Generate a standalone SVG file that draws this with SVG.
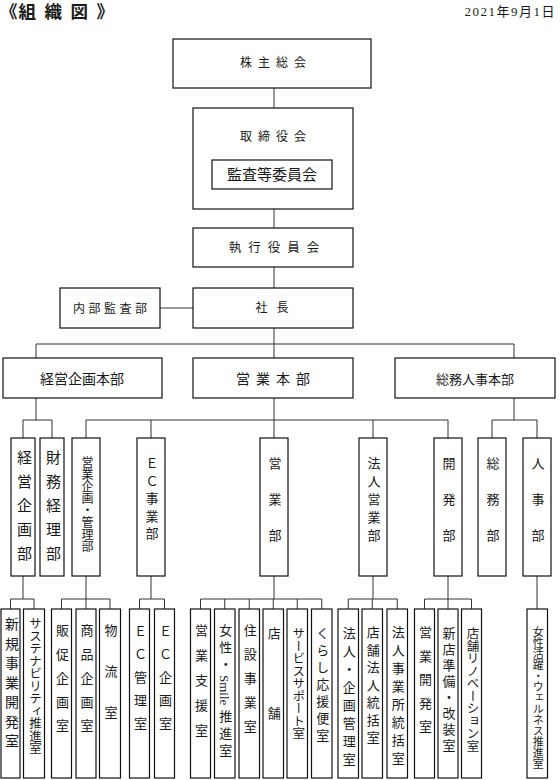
<svg xmlns="http://www.w3.org/2000/svg" width="560" height="780" viewBox="0 0 560 780">
<style>
.box{fill:#fff;stroke:#111;stroke-width:1.2}
.ln{fill:none;stroke:#333;stroke-width:1}
text{font-family:"Liberation Serif","Noto Sans CJK JP",serif;fill:#1a1a1a}
.h{text-anchor:middle;dominant-baseline:central}
.v{writing-mode:vertical-rl;text-anchor:start}
</style>
<rect width="560" height="780" fill="#fff"/>
<text id="title" x="0" y="18" font-size="17.5" font-weight="bold" letter-spacing="8.5"><tspan letter-spacing="1">《</tspan>組織図》</text>
<text id="date" x="556" y="16" font-size="13" letter-spacing="1.5" text-anchor="end">2021年9月1日</text>

<g id="connectors" class="ln">
<path d="M274 88V108M274 209V228M274 267V288M274 328V344M160 308H193"/>
<path d="M36 344H514M36 344V358M274 344V358M514 344V358"/>
<path d="M36 398V420M23 420H52M23 420V438M52 420V438"/>
<path d="M274 398V420M86 420H448M86 420V438M151 420V438M274 420V438M373 420V438M448 420V438"/>
<path d="M514 398V420M492 420H537M492 420V438M537 420V438"/>
<path d="M23 576V599M10.5 599H34M10.5 599V609M34 599V609"/>
<path d="M86 576V599M61.5 599H110M61.5 599V609M86 599V609M110 599V609"/>
<path d="M151 576V599M139.5 599H164.5M139.5 599V609M164.5 599V609"/>
<path d="M274 576V599M200.5 599H321.75M200.5 599V609M224.75 599V609M249.25 599V609M273.25 599V609M297.25 599V609M321.75 599V609"/>
<path d="M373 576V599M348.25 599H397.25M348.25 599V609M372.25 599V609M397.25 599V609"/>
<path d="M448 576V599M424.5 599H471.5M424.5 599V609M448 599V609M471.5 599V609"/>
<path d="M537 576V609"/>
</g>

<g id="kabunushi"><rect class="box" x="173" y="39" width="198" height="49"/><text class="h" x="276" y="63" font-size="12" letter-spacing="6">株主総会</text></g>
<g id="torishimariyaku"><rect class="box" x="193" y="108" width="160" height="101"/><text class="h" x="276" y="137" font-size="12" letter-spacing="6">取締役会</text>
<g id="kansa"><rect class="box" x="212" y="160" width="120" height="29"/><text class="h" x="272" y="175" font-size="15">監査等委員会</text></g></g>
<g id="shikkou"><rect class="box" x="193" y="228" width="160" height="39"/><text class="h" x="277.5" y="248" font-size="12.5" letter-spacing="7">執行役員会</text></g>
<g id="shacho"><rect class="box" x="193" y="288" width="160" height="40"/><text class="h" x="276.5" y="308" font-size="12" letter-spacing="9">社長</text></g>
<g id="naibu"><rect class="box" x="60" y="288" width="100" height="40"/><text class="h" x="111.75" y="309" font-size="12" letter-spacing="3.5">内部監査部</text></g>

<g id="keiei-honbu"><rect class="box" x="3" y="358" width="159" height="40"/><text class="h" x="82" y="379" font-size="14">経営企画本部</text></g>
<g id="eigyo-honbu"><rect class="box" x="193" y="358" width="160" height="40"/><text class="h" x="276" y="379" font-size="14" letter-spacing="6">営業本部</text></g>
<g id="somu-honbu"><rect class="box" x="395" y="358" width="160" height="40"/><text class="h" x="475" y="379" font-size="13">総務人事本部</text></g>

<g id="keiei-kikaku"><rect class="box" x="11" y="438" width="24" height="138"/><text class="v" x="23" y="450" font-size="15" letter-spacing="9">経営企画部</text></g>
<g id="zaimu"><rect class="box" x="40" y="438" width="24" height="138"/><text class="v" x="52" y="450" font-size="15" letter-spacing="9">財務経理部</text></g>
<g id="eigyo-kikaku"><rect class="box" x="72" y="438" width="28" height="138"/><text class="v" x="86" y="456" font-size="12">営業企画・管理部</text></g>
<g id="ec"><rect class="box" x="137" y="438" width="28" height="138"/><text class="v" x="151" y="457" font-size="13" letter-spacing="4.5">ＥＣ事業部</text></g>
<g id="eigyo"><rect class="box" x="260" y="438" width="28" height="138"/><text class="v" x="274" y="457" font-size="13" letter-spacing="23">営業<tspan letter-spacing="0">部</tspan></text></g>
<g id="hojin"><rect class="box" x="359" y="438" width="28" height="138"/><text class="v" x="373" y="457" font-size="13" letter-spacing="5">法人営業部</text></g>
<g id="kaihatsu"><rect class="box" x="434" y="438" width="28" height="138"/><text class="v" x="448" y="457" font-size="13" letter-spacing="23">開発<tspan letter-spacing="0">部</tspan></text></g>
<g id="somu"><rect class="box" x="478" y="438" width="28" height="138"/><text class="v" x="492" y="457" font-size="13" letter-spacing="23">総務<tspan letter-spacing="0">部</tspan></text></g>
<g id="jinji"><rect class="box" x="523" y="438" width="28" height="138"/><text class="v" x="537" y="457" font-size="13" letter-spacing="23">人事<tspan letter-spacing="0">部</tspan></text></g>

<g id="shinki"><rect class="box" x="1" y="609" width="19" height="169"/><text class="v" x="10.5" y="617" font-size="14" letter-spacing="5.5">新規事業開発室</text></g>
<g id="sustain"><rect class="box" x="23.5" y="609" width="21" height="169"/><text class="v" x="34" y="617" font-size="12.5">サステナビリティ推進室</text></g>
<g id="hansoku"><rect class="box" x="51.5" y="609" width="20" height="169"/><text class="v" x="61.5" y="624" font-size="13" letter-spacing="10.75">販促企画室</text></g>
<g id="shohin"><rect class="box" x="76" y="609" width="20" height="169"/><text class="v" x="86" y="624" font-size="13" letter-spacing="10.75">商品企画室</text></g>
<g id="butsuryu"><rect class="box" x="99.5" y="609" width="21" height="169"/><text class="v" x="110" y="624" font-size="13" letter-spacing="28">物流<tspan letter-spacing="0">室</tspan></text></g>
<g id="ec-kanri"><rect class="box" x="129.5" y="609" width="20" height="169"/><text class="v" x="139.5" y="625" font-size="13" letter-spacing="10">ＥＣ管理室</text></g>
<g id="ec-kikaku"><rect class="box" x="154.5" y="609" width="20" height="169"/><text class="v" x="164.5" y="625" font-size="13" letter-spacing="10">ＥＣ企画室</text></g>
<g id="eigyo-shien"><rect class="box" x="190.5" y="609" width="20" height="169"/><text class="v" x="200.5" y="624" font-size="13" letter-spacing="12">営業支援室</text></g>
<g id="smile"><rect class="box" x="214.5" y="609" width="20.5" height="169"/><text class="v" x="224.75" y="624" font-size="13" letter-spacing="4">女性・<tspan letter-spacing="0">Smil</tspan>e推進室</text></g>
<g id="jusetsu"><rect class="box" x="239" y="609" width="20.5" height="169"/><text class="v" x="249.25" y="624" font-size="13" letter-spacing="11">住設事業室</text></g>
<g id="tenpo"><rect class="box" x="263" y="609" width="20.5" height="169"/><text class="v" x="273.25" y="627" font-size="13"><tspan letter-spacing="67">店</tspan>舗</text></g>
<g id="service"><rect class="box" x="287" y="609" width="20.5" height="169"/><text class="v" x="297.25" y="627" font-size="12.5">サービスサポート室</text></g>
<g id="kurashi"><rect class="box" x="311.5" y="609" width="20.5" height="169"/><text class="v" x="321.75" y="627" font-size="13" letter-spacing="4">くらし応援便室</text></g>
<g id="hojin-kikaku"><rect class="box" x="338" y="609" width="20.5" height="169"/><text class="v" x="348.25" y="627" font-size="13" letter-spacing="5">法人・企画管理室</text></g>
<g id="tenpo-hojin"><rect class="box" x="362" y="609" width="20.5" height="169"/><text class="v" x="372.25" y="626" font-size="13" letter-spacing="4.5">店舗法人統括室</text></g>
<g id="hojin-jigyosho"><rect class="box" x="387" y="609" width="20.5" height="169"/><text class="v" x="397.25" y="626" font-size="13" letter-spacing="5">法人事業所統括室</text></g>
<g id="eigyo-kaihatsu"><rect class="box" x="414.5" y="609" width="20" height="169"/><text class="v" x="424.5" y="626" font-size="13" letter-spacing="10.5">営業開発室</text></g>
<g id="shinten"><rect class="box" x="438" y="609" width="20" height="169"/><text class="v" x="448" y="627" font-size="13" letter-spacing="3">新店準備・改装室</text></g>
<g id="renovation"><rect class="box" x="461.5" y="609" width="20" height="169"/><text class="v" x="471.5" y="627" font-size="12.5">店舗リノベーション室</text></g>
<g id="wellness"><rect class="box" x="527" y="609" width="20.5" height="169"/><text class="v" x="537.25" y="626" font-size="11">女性活躍・ウェルネス推進室</text></g>
</svg>
